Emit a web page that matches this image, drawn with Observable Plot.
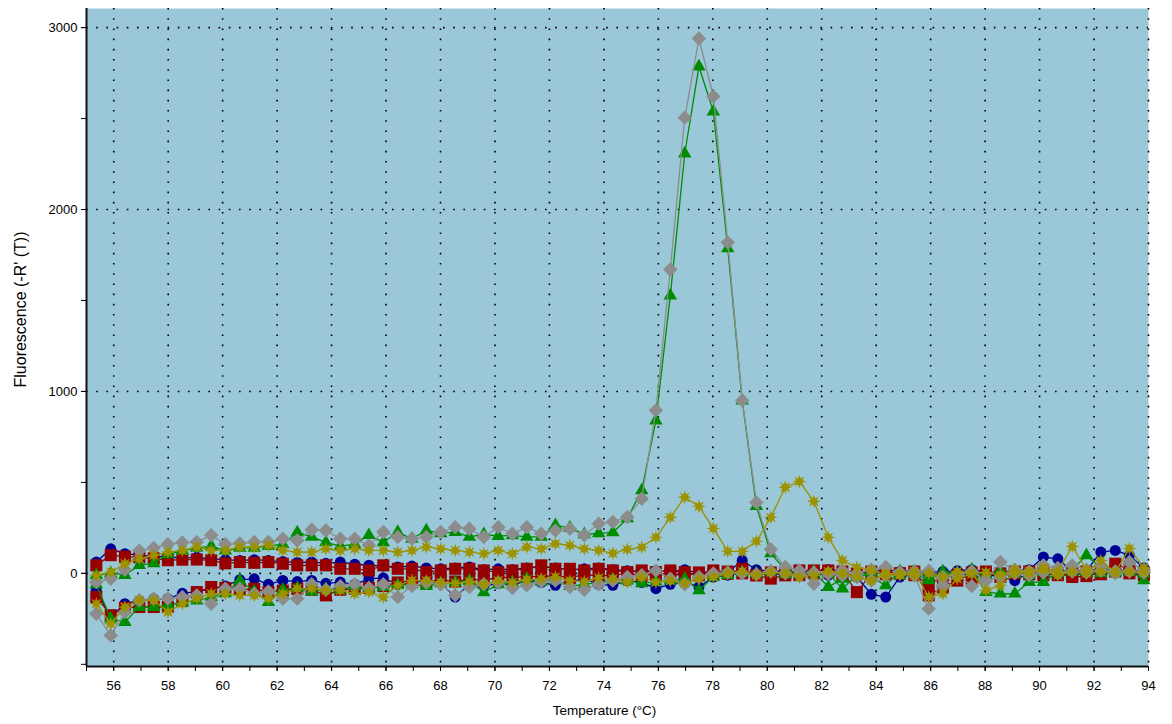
<!DOCTYPE html>
<html><head><meta charset="utf-8">
<script src="https://cdn.jsdelivr.net/npm/d3@7"></script>
<script src="https://cdn.jsdelivr.net/npm/@observablehq/plot@0.6"></script>
<style>body{margin:0;background:#fff} svg{display:block}</style>
</head><body><div id="chart"></div>
<script>
// Temperatures (°C) of the melt steps
const temps = [55.36,55.89,56.41,56.94,57.47,57.99,58.52,59.05,59.58,60.10,
60.63,61.16,61.68,62.21,62.74,63.27,63.79,64.32,64.85,65.37,
65.90,66.43,66.95,67.48,68.01,68.54,69.06,69.59,70.12,70.64,
71.17,71.70,72.22,72.75,73.28,73.81,74.33,74.86,75.39,75.91,
76.44,76.97,77.49,78.02,78.55,79.08,79.60,80.13,80.66,81.18,
81.71,82.24,82.76,83.29,83.82,84.35,84.87,85.40,85.93,86.45,
86.98,87.51,88.03,88.56,89.09,89.62,90.14,90.67,91.20,91.72,
92.25,92.78,93.30,93.83];

const blueUp = [62,135,108,100,95,90,85,88,80,75,
70,75,70,65,60,62,55,62,50,45,
40,35,40,30,25,30,35,20,25,20,
30,35,30,20,25,30,20,15,10,15,
10,20,0,15,5,71,20,10,15,5,
10,20,15,5,10,20,10,15,5,10,
15,20,10,5,15,20,90,80,10,15,
117,126,99,30];
const blueLow = [-94,-240,-167,-150,-140,-139,-110,-100,-85,-70,
-35,-30,-60,-39,-45,-39,-55,-48,-60,-30,
-25,-60,-50,-40,-55,-130,-60,-70,-55,-65,
-40,-50,-66,-45,-30,-60,-66,-40,-50,-84,
-60,-45,-75,-20,-10,0,-5,0,-10,5,
0,-10,-5,-20,-115,-130,-20,-5,-10,0,
-10,0,-5,-20,-40,5,0,10,-5,0,
5,10,0,5];
const redUp = [44,100,92,88,82,72,75,76,72,55,
62,58,62,53,44,44,44,25,25,16,
44,25,25,7,16,25,25,16,7,16,
25,44,25,25,16,25,16,7,16,7,
16,7,-11,16,-2,25,-11,-29,-11,16,
16,16,10,-103,-2,5,0,10,-121,-75,
-40,5,10,-20,0,10,-10,0,-20,-15,
5,53,20,5];
const redLow = [-130,-230,-190,-185,-185,-185,-150,-103,-75,-80,
-90,-85,-103,-95,-85,-90,-121,-90,-85,-80,
-70,-50,-40,-50,-35,-45,-30,-40,-20,-25,
-15,-20,-10,-25,-5,-15,-10,0,-10,-5,
0,-15,5,-5,10,0,-10,5,0,-10,
0,5,-15,0,10,-5,0,-10,-60,-20,
-10,-30,-5,0,10,-5,5,-10,0,10,
-5,10,0,-10];
const greenUp = [-10,0,-10,45,55,105,125,140,150,125,
140,140,150,160,225,200,170,150,160,210,
170,227,190,236,220,227,200,215,205,209,
200,200,264,250,215,220,225,302,456,840,
1527,2308,2786,2538,1786,950,370,110,20,0,
10,-75,-30,0,-20,-66,10,0,-38,10,
0,20,-103,-112,-112,-48,-48,10,20,99,
30,10,20,-39];
const greenLow = [-60,-249,-268,-185,-185,-175,-160,-150,-130,-110,
-39,-100,-158,-90,-80,-100,-85,-90,-70,-80,
-75,-65,-60,-70,-55,-50,-40,-105,-60,-50,
-30,-45,-40,-70,-60,-50,-35,-40,-55,-45,
-40,-30,-93,-20,-10,5,0,10,-5,0,
5,0,-84,-10,5,0,-10,10,-20,-5,
0,5,-5,10,0,-10,5,0,10,5,
0,5,10,0];
const grayUp = [-48,-30,20,125,140,160,170,172,209,160,
165,172,172,190,181,240,236,190,190,154,
227,200,190,200,227,254,245,200,254,218,
254,218,236,245,209,273,282,310,410,896,
1670,2505,2940,2621,1819,950,390,132,35,16,
-57,-2,16,0,20,35,5,10,15,-66,
-10,10,-40,62,20,10,44,30,44,20,
44,10,62,20];
const grayLow = [-222,-341,-213,-148,-139,-139,-130,-121,-167,-84,
-84,-112,-100,-139,-139,-60,-90,-70,-60,-80,
-60,-130,-70,-50,-60,-121,-75,-60,-50,-80,
-66,-45,-40,-75,-90,-60,-40,-20,-10,15,
-30,-60,-20,0,5,0,-5,10,0,-10,
5,0,-10,-20,-40,-10,0,-10,-194,-20,
-5,-70,-40,-20,0,-10,5,0,10,5,
15,0,10,5];
const oliveUp = [-11,7,53,80,99,117,126,145,126,126,
145,145,154,126,117,117,135,126,135,126,
126,117,126,145,135,126,117,108,126,108,
145,135,163,154,135,126,110,132,143,198,
308,418,368,247,121,121,176,308,473,505,
396,198,71,33,16,-11,-2,-11,0,-20,
10,-2,5,-10,20,0,30,10,148,20,
10,5,137,30];
const oliveLow = [-167,-277,-185,-148,-148,-213,-167,-139,-112,-112,
-121,-121,-139,-112,-84,-84,-94,-94,-112,-103,
-130,-66,-39,-40,-50,-55,-45,-60,-40,-50,
-35,-30,-20,-40,-45,-25,-30,-50,-20,-50,
-40,-55,-30,-20,0,10,-10,5,0,-20,
-10,10,0,-20,-40,0,-10,10,-130,-112,
-30,-2,-94,-66,0,10,20,-10,10,0,
71,5,10,7];

const xTickLabels = [56,58,60,62,64,66,68,70,72,74,76,78,80,82,84,86,88,90,92,94];
const yTickLabels = [0,1000,2000,3000];
const xTitle = "Temperature (°C)";
const yTitle = "Fluorescence (-R' (T))";

const xDomain = [55, 94];
const yDomain = [-512, 3105];

// 8-pointed filled asterisk marker
const asterisk = {
  draw(ctx, size) {
    const R = Math.sqrt(size / Math.PI), r0 = R * 0.45;
    for (let k = 0; k < 16; k++) {
      const a = k * Math.PI / 8 - Math.PI / 2, rr = k % 2 === 0 ? R : r0;
      const px = rr * Math.cos(a), py = rr * Math.sin(a);
      if (k === 0) ctx.moveTo(px, py); else ctx.lineTo(px, py);
    }
    ctx.closePath();
  }
};

const BLUE = "#000094", RED = "#960000", GREEN = "#008c00", GRAY = "#8c8c8c", OLIVE = "#9c9200";
const series = [
  {values: blueLow, color: BLUE, symbol: "circle", r: 5.5},
  {values: blueUp, color: BLUE, symbol: "circle", r: 5.5},
  {values: redLow, color: RED, symbol: "square", r: 6.8},
  {values: redUp, color: RED, symbol: "square", r: 6.8},
  {values: greenLow, color: GREEN, symbol: "triangle", r: 5},
  {values: greenUp, color: GREEN, symbol: "triangle", r: 5},
  {values: grayLow, color: GRAY, symbol: "diamond2", r: 6.5},
  {values: grayUp, color: GRAY, symbol: "diamond2", r: 6.5},
  {values: oliveLow, color: OLIVE, symbol: asterisk, r: 7},
  {values: oliveUp, color: OLIVE, symbol: asterisk, r: 7}
];

const seriesMarks = series.flatMap(s => {
  const rows = temps.map((t, i) => ({T: t, v: s.values[i]}));
  return [
    Plot.line(rows, {x: "T", y: "v", stroke: s.color, strokeWidth: 1.3}),
    Plot.dot(rows, {x: "T", y: "v", symbol: s.symbol, r: s.r, fill: s.color, stroke: "none"})
  ];
});

const grid = {stroke: "#000", strokeOpacity: 1, strokeWidth: 1.6, strokeDasharray: "1.6,8.6"};

const chart = Plot.plot({
  width: 1172, height: 724,
  marginLeft: 86, marginRight: 24, marginTop: 8, marginBottom: 58,
  style: {fontFamily: "'Liberation Sans', Arial, sans-serif", fontSize: "13px", color: "#000", background: "#fff"},
  x: {domain: xDomain},
  y: {domain: yDomain},
  marks: [
    Plot.frame({fill: "#9ac8d8", stroke: "none"}),
    Plot.gridX(xTickLabels, grid),
    Plot.gridY(yTickLabels, grid),
    ...seriesMarks,
    Plot.ruleX([xDomain[0]], {stroke: "#111", strokeWidth: 2}),
    Plot.ruleY([yDomain[0]], {stroke: "#111", strokeWidth: 2}),
    Plot.axisX(d3.range(55, 95), {tickSize: 5, tickFormat: () => "", label: null, stroke: "#000"}),
    Plot.axisX(xTickLabels, {tickSize: 5, tickPadding: 9, label: null, fontSize: 13, tickFormat: d => String(d)}),
    Plot.axisY(d3.range(-500, 3001, 500), {tickSize: 5, tickFormat: () => "", label: null}),
    Plot.axisY(yTickLabels, {tickSize: 5, tickPadding: 4, label: null, fontSize: 13, tickFormat: d => String(d)}),
    Plot.text([xTitle], {frameAnchor: "bottom", text: d => d, dy: 48, dx: -13, fontSize: 13.5}),
    Plot.text([yTitle], {frameAnchor: "left", text: d => d, rotate: -90, textAnchor: "middle", dx: -66, dy: -28, fontSize: 16})
  ]
});
document.getElementById("chart").appendChild(chart);
</script>
</body></html>
